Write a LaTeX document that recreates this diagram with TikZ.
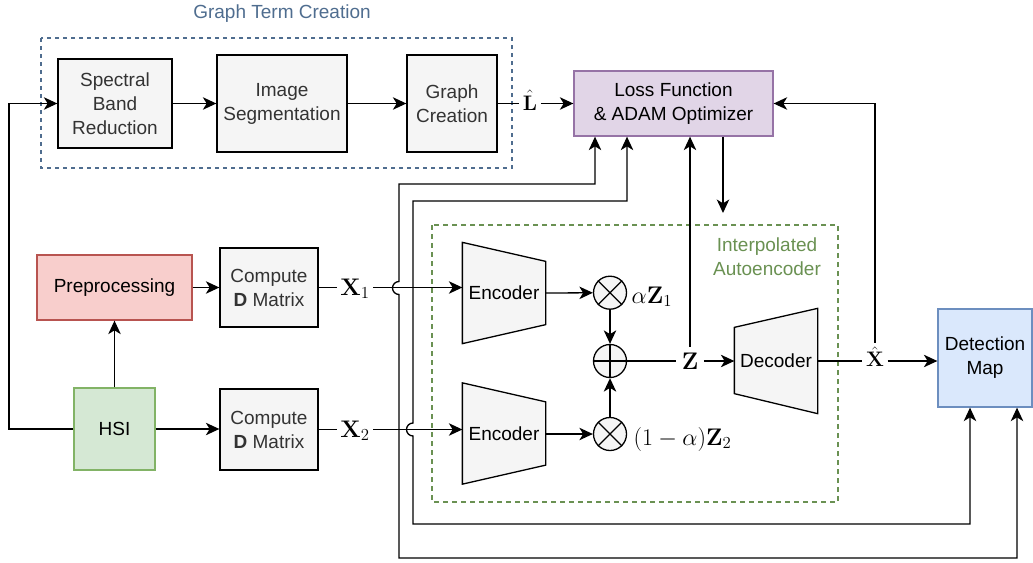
\RequirePackage{fix-cm}
\documentclass[tikz,border=0pt]{standalone}
\usepackage[no-math]{fontspec}
\setmainfont{Liberation Sans}
\usetikzlibrary{arrows.meta,calc}

\definecolor{boxgray}{HTML}{F5F5F5}
\definecolor{textgray}{HTML}{333333}
\definecolor{prefill}{HTML}{F8CECC}
\definecolor{predraw}{HTML}{B85450}
\definecolor{hsifill}{HTML}{D5E8D4}
\definecolor{hsidraw}{HTML}{82B366}
\definecolor{lossfill}{HTML}{E1D5E7}
\definecolor{lossdraw}{HTML}{9673A6}
\definecolor{detfill}{HTML}{DAE8FC}
\definecolor{detdraw}{HTML}{6C8EBF}
\definecolor{termblue}{HTML}{4F6D8F}
\definecolor{aegreen}{HTML}{6A9152}

\tikzset{
  txt/.style={font=\fontsize{19}{24}\selectfont, align=center},
  plainbox/.style={txt, draw=black, inner sep=0pt},
  graybox/.style={plainbox, fill=boxgray, text=textgray},
  mlab/.style={font=\fontsize{24}{28}\selectfont, inner sep=3pt},
  mlabsmall/.style={font=\fontsize{21}{24}\selectfont, inner sep=3pt},
  trap/.style={draw=black, fill=boxgray},
  opnode/.style={circle, draw=black, fill=boxgray, minimum size=33pt, inner sep=0pt},
  termframe/.style={draw=termblue, dash pattern=on 4pt off 4pt},
  aeframe/.style={draw=aegreen, dash pattern=on 5pt off 4pt},
  tip/.style={Stealth[length=13.5pt,width=12.5pt,inset=3.8pt]},
  both/.style={{Stealth[length=13.5pt,width=12.5pt,inset=3.8pt]}-{Stealth[length=13.5pt,width=12.5pt,inset=3.8pt]}}
}

\begin{document}
\begin{tikzpicture}[x=1pt, y=-1pt, line width=1.3pt,
  >={Stealth[length=13.5pt,width=12.5pt,inset=3.8pt]}]
\useasboundingbox (0,0) rectangle (1033,562);

% group frames
\draw[termframe] (41,38) rectangle (512,168);
\node[txt, text=termblue] (gtitle) at (282,14) {Graph Term Creation};
\draw[aeframe] (432,225) rectangle (838,502);
\node[txt, text=aegreen] (aelabel) at (767,257) {Interpolated\\Autoencoder};

% graph term blocks
\node[graybox, minimum width=114pt, minimum height=89pt] (sbr) at (115,103.5) {Spectral\\Band\\Reduction};
\node[graybox, minimum width=130pt, minimum height=97pt] (seg) at (282,103.5) {Image\\Segmentation};
\node[graybox, minimum width=90pt, minimum height=97pt] (gc) at (452,103.5) {Graph\\Creation};

% loss and detection
\node[plainbox, fill=lossfill, draw=lossdraw, minimum width=199pt, minimum height=65pt] (loss) at (673.5,103.5) {Loss Function\\\& ADAM Optimizer};
\node[plainbox, fill=detfill, draw=detdraw, minimum width=94pt, minimum height=98pt] (det) at (985,358) {Detection\\Map};

% input side
\node[plainbox, fill=prefill, draw=predraw, minimum width=155pt, minimum height=65pt] (pre) at (114.5,287.5) {Preprocessing};
\node[plainbox, fill=hsifill, draw=hsidraw, minimum width=81pt, minimum height=82pt] (hsi) at (114.5,429) {HSI};
\node[graybox, minimum width=98pt, minimum height=79pt] (cd1) at (269,287.5) {Compute\\\textbf{D} Matrix};
\node[graybox, minimum width=98pt, minimum height=81pt] (cd2) at (269,429.5) {Compute\\\textbf{D} Matrix};

% encoders and decoder (trapezoids drawn around label nodes)
\node[txt, minimum width=82pt, minimum height=100pt, inner sep=0pt] (enc1) at (504,293) {};
\node[txt, minimum width=82pt, minimum height=100pt, inner sep=0pt] (enc2) at (504,433.5) {};
\node[txt, minimum width=82pt, minimum height=104pt, inner sep=0pt] (dec) at (776,361) {};
\draw[trap] (enc1.north west) -- ([yshift=-19pt]enc1.north east) -- ([yshift=19pt]enc1.south east) -- (enc1.south west) -- cycle;
\draw[trap] (enc2.north west) -- ([yshift=-19pt]enc2.north east) -- ([yshift=19pt]enc2.south east) -- (enc2.south west) -- cycle;
\draw[trap] ([yshift=-19pt]dec.north west) -- (dec.north east) -- (dec.south east) -- ([yshift=20pt]dec.south west) -- cycle;
\node[txt] at (enc1) {Encoder};
\node[txt] at (enc2) {Encoder};
\node[txt] at (dec) {Decoder};

% mixing operators
\node[opnode] (o1) at (610,292.7) {};
\node[opnode] (plus) at (610,361) {};
\node[opnode] (o2) at (610,434) {};
\draw (o1.north west) -- (o1.south east) (o1.north east) -- (o1.south west);
\draw (o2.north west) -- (o2.south east) (o2.north east) -- (o2.south west);
\draw (plus.north) -- (plus.south) (plus.west) -- (plus.east);

% math labels
\node[mlab, anchor=base] (x1) at (355,295) {$\mathbf{X}_1$};
\node[mlab, anchor=base] (x2) at (355,437) {$\mathbf{X}_2$};
\node[mlab, anchor=base, inner sep=5pt] (z) at (690,369) {$\mathbf{Z}$};
\node[mlabsmall, anchor=base] (lhat) at (530,110) {$\hat{\mathbf{L}}$};
\node[mlabsmall, anchor=base] (xhat) at (875,366.5) {$\hat{\mathbf{X}}$};
\node[mlab, anchor=base west, inner sep=0pt] (az1) at (631,303) {$\alpha\mathbf{Z}_1$};
\node[mlab, anchor=base west, inner sep=0pt] (az2) at (633,445) {$(1-\alpha)\mathbf{Z}_2$};

% input flow
\coordinate (lft) at (9,0);
\draw[->] (hsi.west) -- (hsi.west -| lft) |- (sbr.west);
\draw[->] (hsi) -- (pre);
\draw[->] (pre) -- (cd1);
\draw[->] (hsi.east) -- (hsi.east -| cd2.west);
\draw[->] (sbr) -- (seg);
\draw[->] (seg) -- (gc);
\draw (gc.east) -- (gc.east -| lhat.west);
\draw[->] (gc.east -| lhat.east) -- (loss.west);

% encoder inputs
\draw (cd1.east) -- (cd1.east -| x1.west);
\draw[->] (cd1.east -| x1.east) -- (cd1.east -| enc1.west);
\draw (cd2.east) -- (cd2.east -| x2.west);
\draw[->] (cd2.east -| x2.east) -- (cd2.east -| enc2.west);

% latent mixing
\draw[->] (enc1.east) -- (o1);
\draw[->] (enc2.east |- o2) -- (o2);
\draw[->] (o1) -- (plus);
\draw[->] (o2) -- (plus);
\draw (plus.east) -- (plus.east -| z.west);
\draw[->] (plus.east -| z.east) -- (plus.east -| dec.west);
\draw[->] (z.north) -- (z.north |- loss.south);

% reconstruction
\draw (dec.east) -- (dec.east -| xhat.west);
\draw[->] (dec.east -| xhat.east) -- (dec.east -| det.west);
\draw[->] (xhat.north) |- (loss.east);

% optimizer feedback into the autoencoder
\coordinate (aetop) at (723,213);
\draw[->] (loss.south -| aetop) -- (aetop);

% links between loss and detection map, hopping over the inputs
\draw[both] ([xshift=-78.5pt]loss.south) |- (399,184) -- (399,281.5)
  arc[start angle=90, end angle=270, radius=6.5pt] -- (399,558) -| ([xshift=32pt]det.south);
\draw[both] ([xshift=-46.5pt]loss.south) |- (413,201) -- (413,423)
  arc[start angle=90, end angle=270, radius=6.5pt] -- (413,524) -| ([xshift=-15pt]det.south);
\end{tikzpicture}
\end{document}
